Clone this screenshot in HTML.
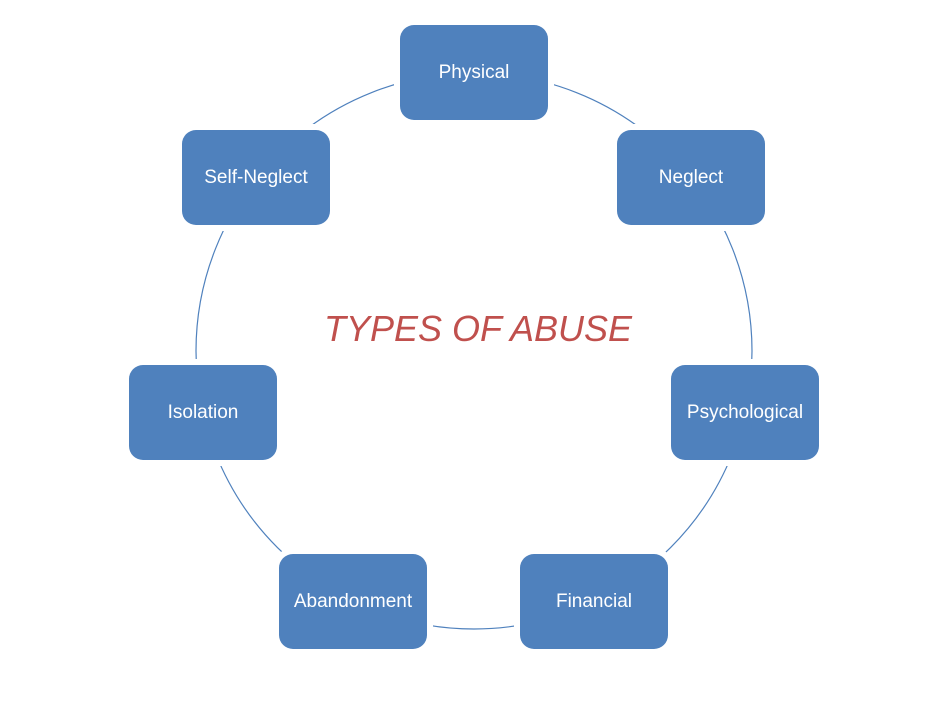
<!DOCTYPE html>
<html><head><style>
body{margin:0;width:933px;height:708px;background:#fff;position:relative;overflow:hidden;font-family:"Liberation Sans",sans-serif}
svg{position:absolute;left:0;top:0}
.b{position:absolute;width:148px;height:95px;background:#4f81bd;border-radius:14px;box-shadow:0 0 0 6px #fff;color:#fff;font-size:19px;display:flex;align-items:center;justify-content:center}
.t{position:absolute;left:278px;top:308px;width:400px;text-align:center;font-style:italic;color:#c0504d;font-size:36px}
</style></head><body>
<svg width="933" height="708"><circle cx="474" cy="351" r="278" fill="none" stroke="#4f81bd" stroke-width="1.2"/></svg>
<div class="b" style="left:400px;top:25px">Physical</div>
<div class="b" style="left:617px;top:130px">Neglect</div>
<div class="b" style="left:671px;top:365px">Psychological</div>
<div class="b" style="left:520px;top:554px">Financial</div>
<div class="b" style="left:279px;top:554px">Abandonment</div>
<div class="b" style="left:129px;top:365px">Isolation</div>
<div class="b" style="left:182px;top:130px">Self-Neglect</div>
<div class="t">TYPES OF ABUSE</div>
</body></html>
